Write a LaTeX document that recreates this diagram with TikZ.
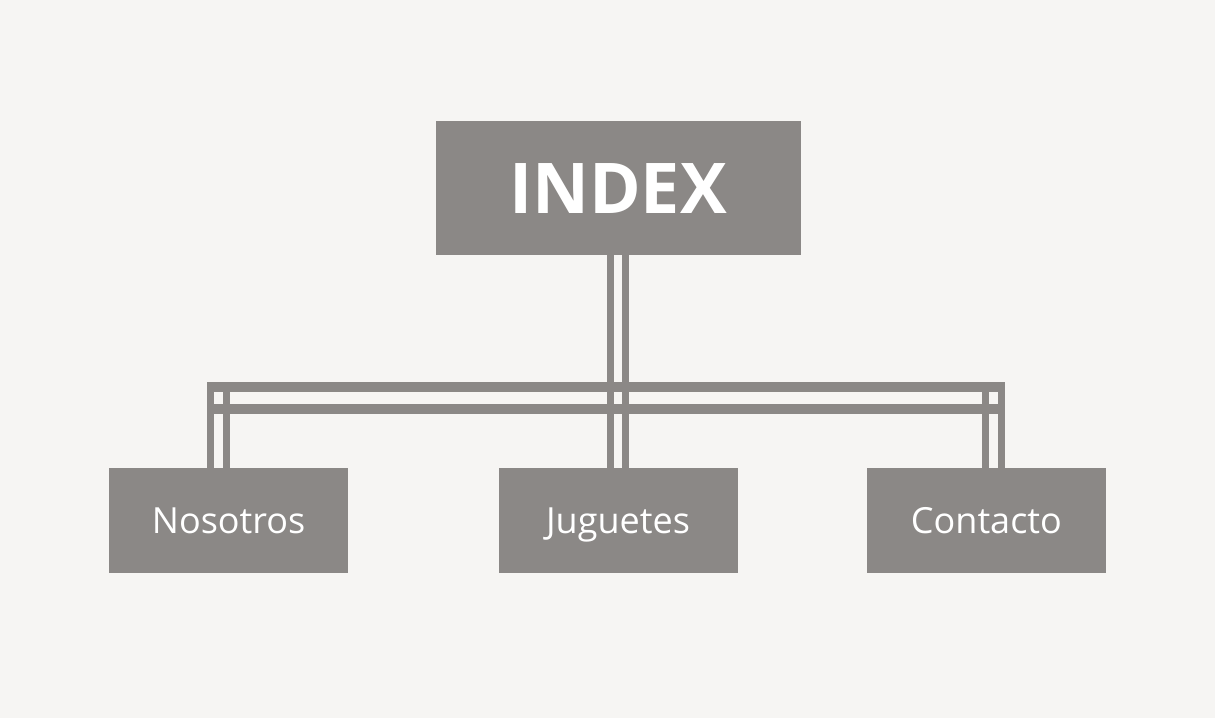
\documentclass[tikz,border=0pt]{standalone}
\usepackage{fontspec}
\setmainfont{Open Sans}
\usepackage{xcolor}
\usetikzlibrary{positioning,calc}
\definecolor{SiteBg}{HTML}{F6F5F3}
\definecolor{SiteGray}{HTML}{8B8886}

\begin{document}
\begin{tikzpicture}[
  x=1pt, y=-1pt,
  page/.style={draw,fill=SiteGray,text=white,inner sep=0pt,
    text height=26pt,text depth=0pt,
    minimum width=238pt,minimum height=104pt,font=\fontsize{36}{40}\selectfont},
  home/.style={page,minimum width=364pt,minimum height=133pt,
    text height=52pt,text depth=0pt,
    font=\fontsize{70}{80}\selectfont\bfseries},
  hbar/.style={draw=SiteGray,line width=9.5pt,shorten <=-3.5pt,shorten >=-3.5pt},
  vbar/.style={draw=SiteGray,line width=7pt}
]
  \fill[SiteBg] (0,0) rectangle (1215,718);
  \useasboundingbox (0,0) rectangle (1215,718);

  \node[home, draw=SiteGray] (index) at (618,187.5) {INDEX};
  \node[page, draw=SiteGray, below=214pt of index] (juguetes) {Juguetes};
  \node[page, draw=SiteGray, left=151pt of juguetes] (nosotros) {Nosotros};
  \node[page, draw=SiteGray, right=130pt of juguetes] (contacto) {Contacto};

  \coordinate (trunkL) at ($(index.south)+(-7.75,0)$);
  \coordinate (trunkR) at ($(index.south)+(7.75,0)$);
  \coordinate (busNW) at ($(nosotros.north)+(-18,-81)$);
  \coordinate (busNE) at ($(contacto.north)+(15,-81)$);
  \coordinate (busSW) at ($(nosotros.north)+(-18,-59)$);
  \coordinate (busSE) at ($(contacto.north)+(15,-59)$);
  \coordinate (busNWi) at ($(nosotros.north)+(-2,-81)$);
  \coordinate (busNEi) at ($(contacto.north)+(-1,-81)$);

  \draw[vbar] (trunkL) -- (trunkL |- juguetes.north);
  \draw[vbar] (trunkR) -- (trunkR |- juguetes.north);
  \draw[hbar] (busNW) -- (busNE);
  \draw[hbar] (busSW) -- (busSE);
  \draw[vbar, shorten <=-4.75pt] (busNW) -- (busNW |- nosotros.north);
  \draw[vbar, shorten <=-4.75pt] (busNWi) -- (busNWi |- nosotros.north);
  \draw[vbar, shorten <=-4.75pt] (busNE) -- (busNE |- contacto.north);
  \draw[vbar, shorten <=-4.75pt] (busNEi) -- (busNEi |- contacto.north);
\end{tikzpicture}
\end{document}
